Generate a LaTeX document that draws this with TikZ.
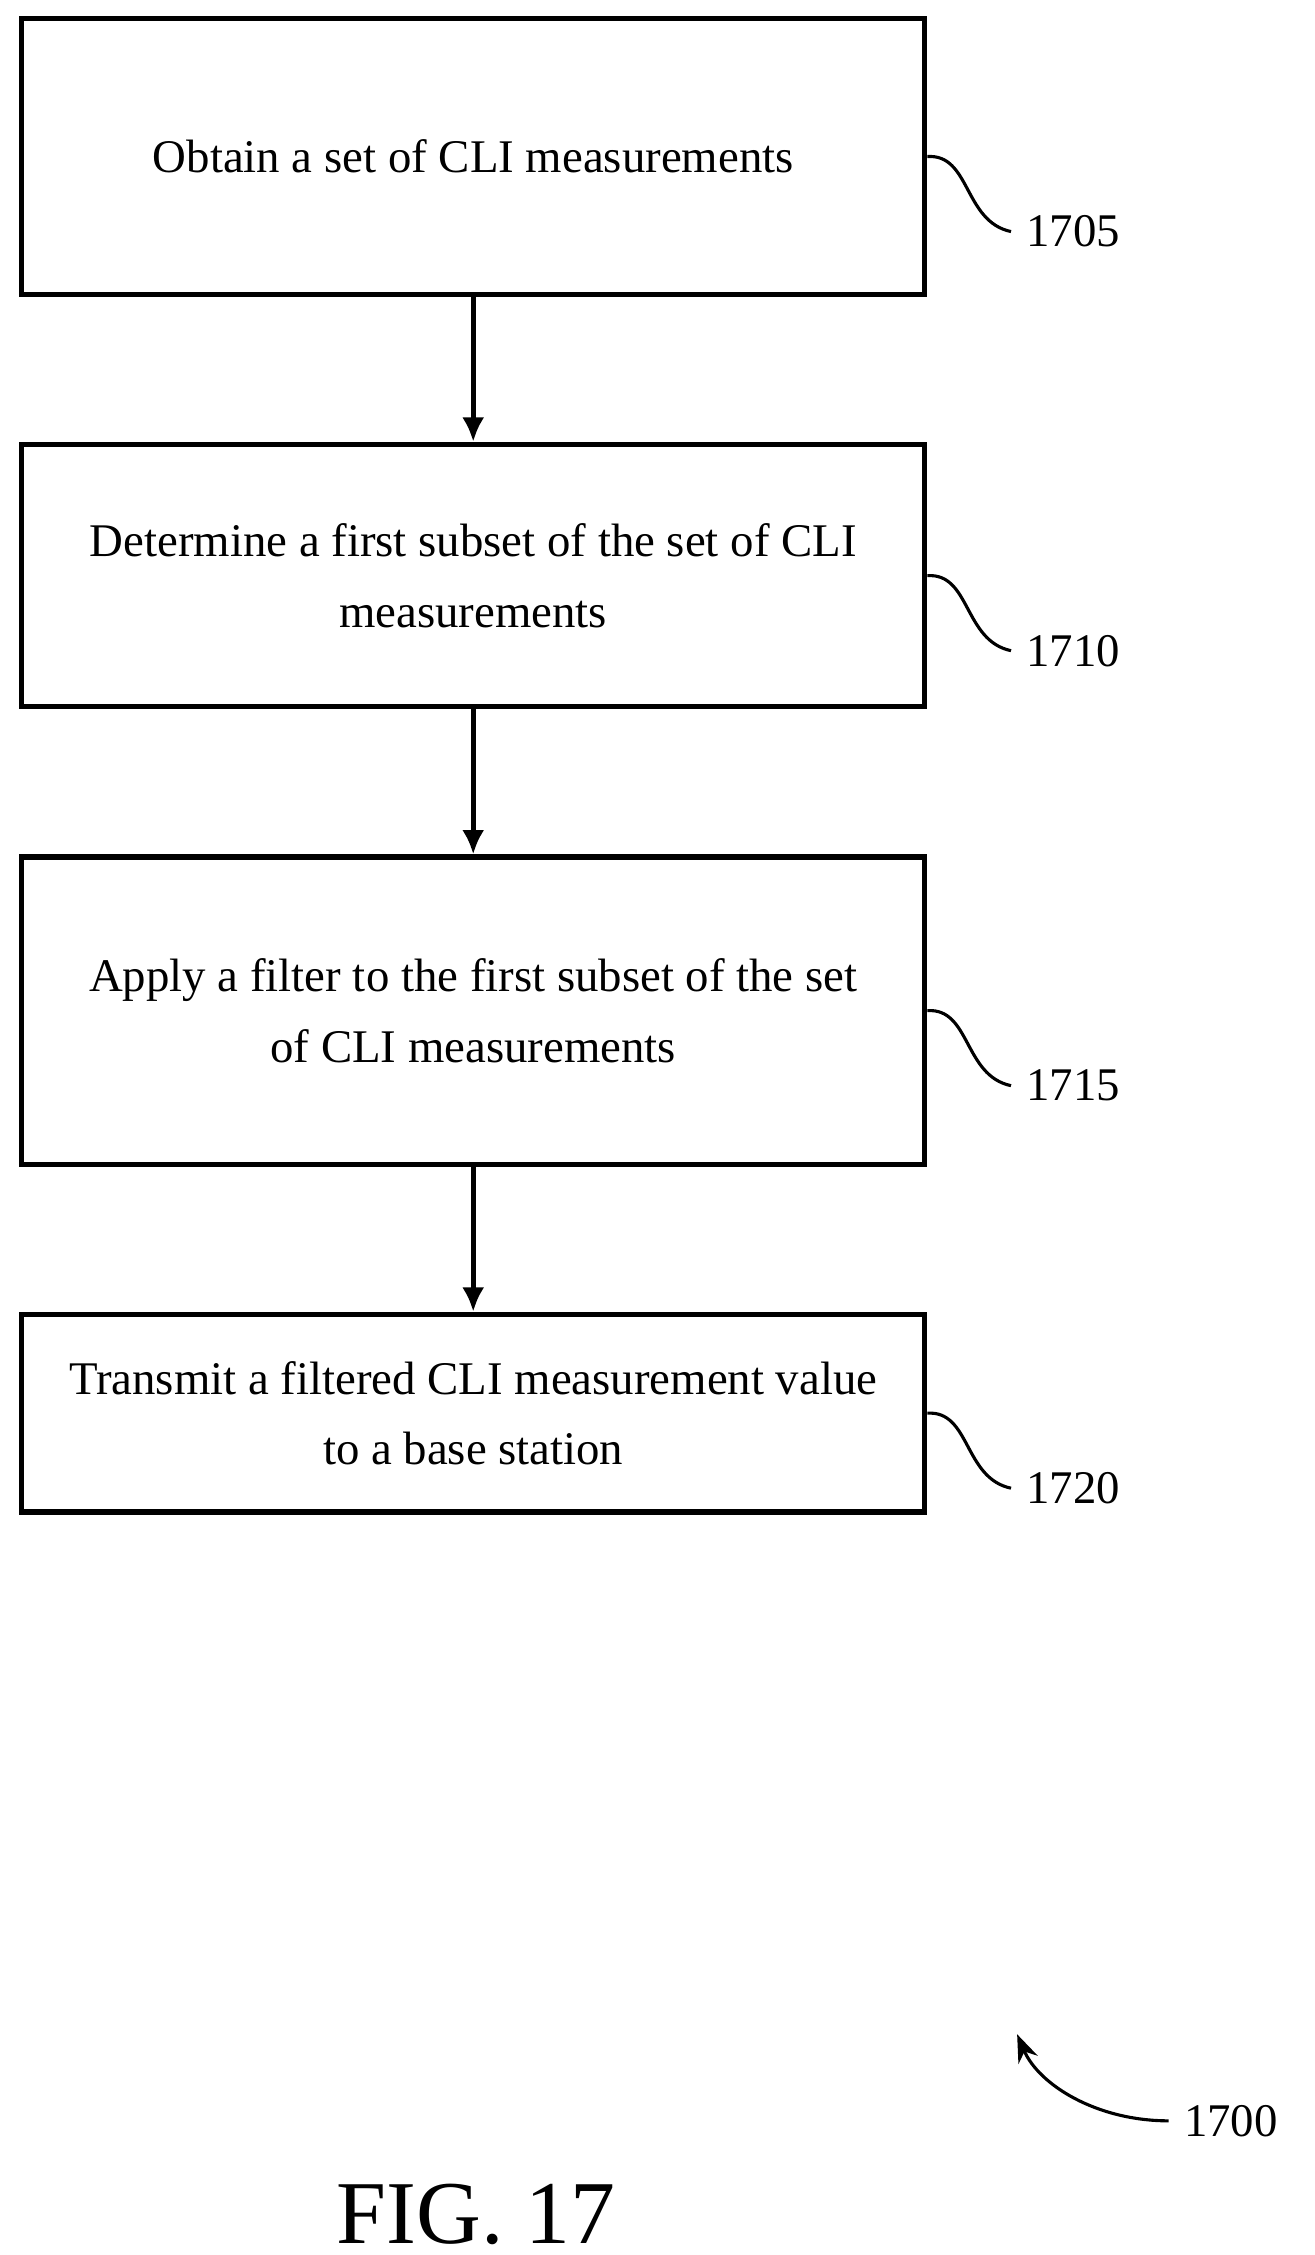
\documentclass[tikz,border=0pt]{standalone}
\usepackage{fontspec}
\setmainfont{Liberation Serif}
\usetikzlibrary{positioning, calc, arrows.meta}
\begin{document}
\begin{tikzpicture}[
    x=0.013cm, y=-0.013cm,
    line width = 1.3pt,
    stage/.style={draw, rectangle, align=center, inner sep=0pt,
        font=\fontsize{12}{18}\selectfont},
    flow/.style={-{Latex[length=2.2mm, width=2mm]}},
    tag/.style={font=\fontsize{12}{15}\selectfont, anchor=west},
    squig/.style={line width=0.8pt}
    ]

    % Determines the boundries
    \path[use as bounding box] (0,0) rectangle (911,1563);

    % Steps of the method
    \node (S1) [stage, minimum width=626*0.013cm, minimum height=191*0.013cm] at (328,108.5)
        {Obtain a set of CLI measurements};
    \node (S2) [stage, minimum width=626*0.013cm, minimum height=182*0.013cm] at (328,399)
        {Determine a first subset of the set of CLI\\measurements};
    \node (S3) [stage, minimum width=626*0.013cm, minimum height=213*0.013cm] at (328,700.5)
        {Apply a filter to the first subset of the set\\of CLI measurements};
    \node (S4) [stage, minimum width=626*0.013cm, minimum height=137*0.013cm] at (328,979.5)
        {Transmit a filtered CLI measurement value\\to a base station};

    % Arrows
    \foreach \a/\b in {S1/S2, S2/S3, S3/S4}{
        \draw[flow] (\a.south) -- (\b.north);
    }

    % Reference numbers
    \foreach \s/\n in {S1/1705, S2/1710, S3/1715, S4/1720}{
        \node (L\n) [tag] at ($(\s.east)+(58,52)$) {\n};
        \draw[squig] (\s.east) .. controls ($(\s.east)+(30,-2)$) and ($(\s.east)+(25,45)$) .. (L\n.west);
    }

    % Figure number
    \node (N1700) [tag] at (810,1470) {1700};
    \coordinate (P1700) at (705,1410);
    \draw[squig, -{Stealth[length=2.5mm]}] (N1700.west) .. controls (760,1470) and (720,1445) .. (P1700);

    \node (FIG) [font=\fontsize{23}{26}\selectfont] at (330,1535) {FIG. 17};
\end{tikzpicture}
\end{document}
